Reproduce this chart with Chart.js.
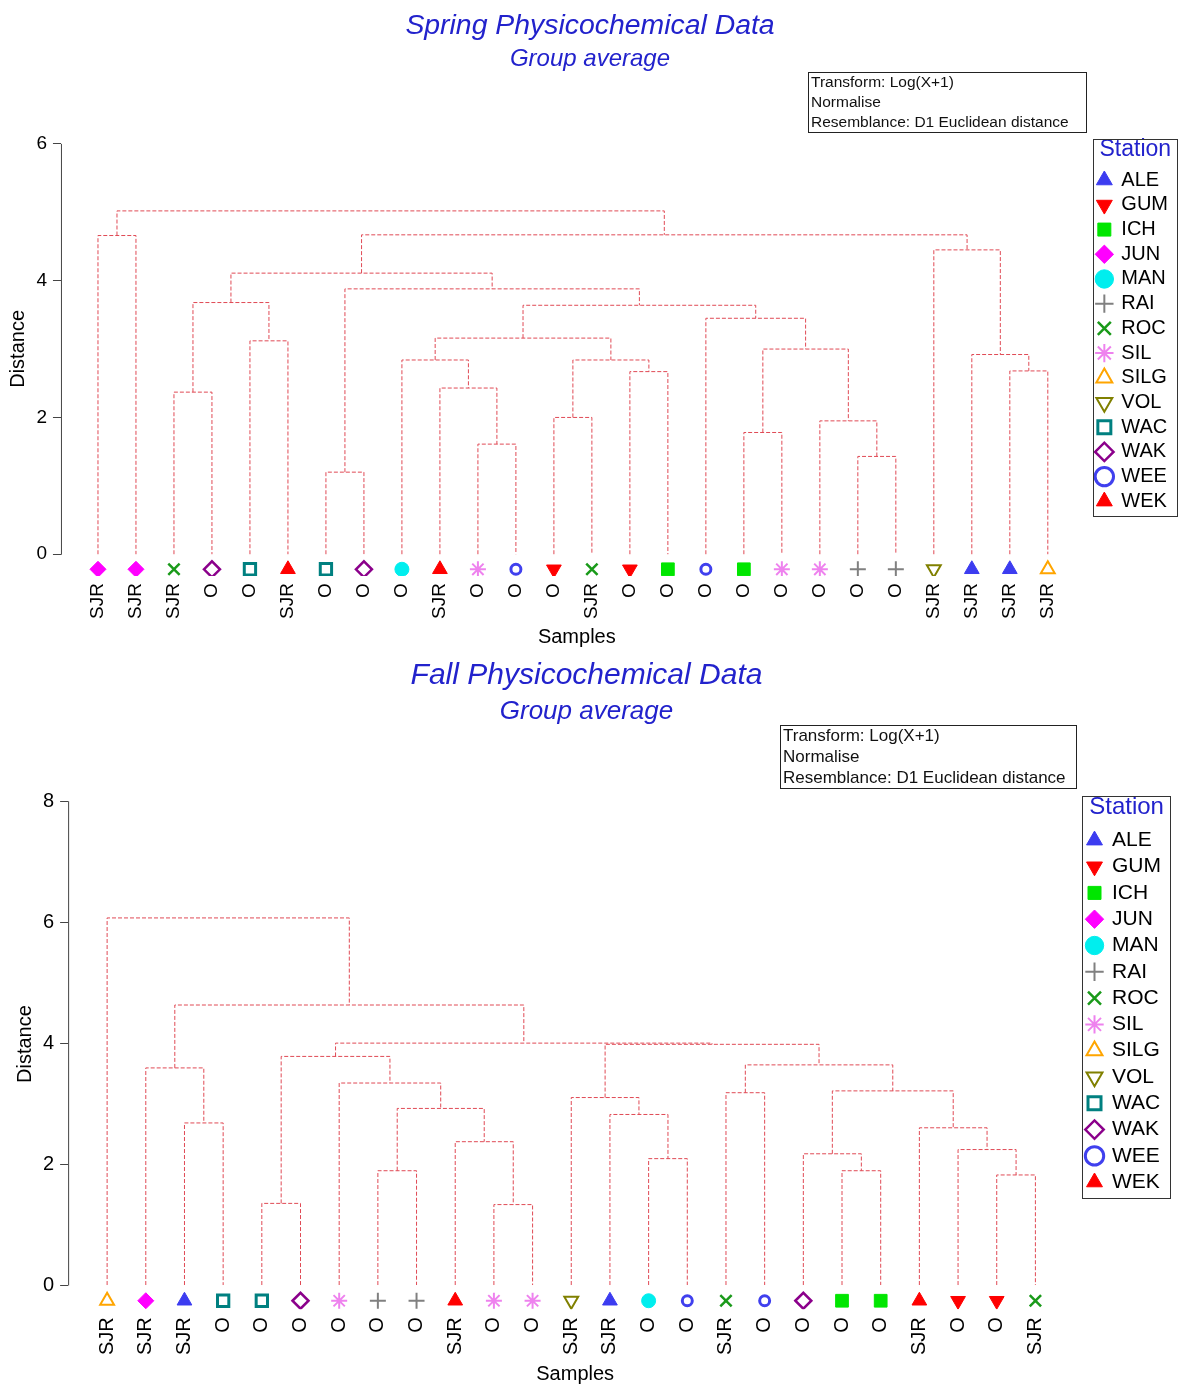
<!DOCTYPE html>
<html>
<head>
<meta charset="utf-8">
<script src="https://cdn.jsdelivr.net/npm/chart.js@4.4.1/dist/chart.umd.min.js"></script>
<style>
  html, body { margin: 0; padding: 0; background: #fff; overflow: hidden; }
  .wrap { position: absolute; left: 0; width: 1179px; }
  #springWrap { top: 0; height: 648px; }
  #fallWrap { top: 648px; height: 737px; }
</style>
</head>
<body>
<div class="wrap" id="springWrap"><canvas id="springChart" width="1179" height="648"></canvas></div>
<div class="wrap" id="fallWrap"><canvas id="fallChart" width="1179" height="737"></canvas></div>
<script>
// legend order of the stations
const stationNames = ['ALE', 'GUM', 'ICH', 'JUN', 'MAN', 'RAI', 'ROC', 'SIL', 'SILG', 'VOL', 'WAC', 'WAK', 'WEE', 'WEK'];
const infoLines = ['Transform: Log(X+1)', 'Normalise', 'Resemblance: D1 Euclidean distance'];

// Spring: leaves from left to right
const springStations = ['JUN', 'JUN', 'ROC', 'WAK', 'WAC', 'WEK', 'WAC', 'WAK', 'MAN', 'WEK', 'SIL', 'WEE', 'GUM',
  'ROC', 'GUM', 'ICH', 'WEE', 'ICH', 'SIL', 'SIL', 'RAI', 'RAI', 'VOL', 'ALE', 'ALE', 'SILG'];
const springSites = ['SJR', 'SJR', 'SJR', 'O', 'O', 'SJR', 'O', 'O', 'O', 'SJR', 'O', 'O', 'O',
  'SJR', 'O', 'O', 'O', 'O', 'O', 'O', 'O', 'O', 'SJR', 'SJR', 'SJR', 'SJR'];
// [node a, node b, distance] - leaves are 0..n-1, merge k becomes node n+k
const springMerges = [
  [6, 7, 1.20], [20, 21, 1.43], [10, 11, 1.61], [17, 18, 1.78], [19, 27, 1.95],
  [12, 13, 2.00], [2, 3, 2.37], [9, 28, 2.43], [14, 15, 2.67], [24, 25, 2.68],
  [8, 33, 2.84], [31, 34, 2.84], [23, 35, 2.92], [29, 30, 3.00], [4, 5, 3.12],
  [36, 37, 3.16], [16, 39, 3.45], [41, 42, 3.64], [32, 40, 3.68], [26, 43, 3.88],
  [44, 45, 4.11], [22, 38, 4.45], [0, 1, 4.66], [46, 47, 4.67], [48, 49, 5.02]
];

// Fall
const fallStations = ['SILG', 'JUN', 'ALE', 'WAC', 'WAC', 'WAK', 'SIL', 'RAI', 'RAI', 'WEK', 'SIL', 'SIL', 'VOL',
  'ALE', 'MAN', 'WEE', 'ROC', 'WEE', 'WAK', 'ICH', 'ICH', 'WEK', 'GUM', 'GUM', 'ROC'];
const fallSites = ['SJR', 'SJR', 'SJR', 'O', 'O', 'O', 'O', 'O', 'O', 'SJR', 'O', 'O', 'SJR',
  'SJR', 'O', 'O', 'SJR', 'O', 'O', 'O', 'O', 'SJR', 'O', 'O', 'SJR'];
const fallMerges = [
  [10, 11, 1.33], [4, 5, 1.35], [23, 24, 1.82], [7, 8, 1.89], [19, 20, 1.89],
  [14, 15, 2.09], [18, 29, 2.17], [22, 27, 2.24], [9, 25, 2.37], [21, 32, 2.60],
  [2, 3, 2.68], [13, 30, 2.82], [28, 33, 2.92], [12, 36, 3.10], [16, 17, 3.18],
  [31, 34, 3.21], [6, 37, 3.34], [1, 35, 3.59], [39, 40, 3.64], [26, 41, 3.78],
  [38, 43, 3.98], [44, 45, 4.00], [42, 46, 4.63], [0, 47, 6.07]
];

const stationStyle = {
  ALE:  { shape: 'triangle', color: '#3c3cf0', fill: true, r: 8.5 },
  GUM:  { shape: 'triangle', rot: 180, color: '#ff0000', fill: true, r: 8.5 },
  ICH:  { shape: 'rect', color: '#00e600', fill: true, r: 9 },
  JUN:  { shape: 'rectRot', color: '#ff00ff', fill: true, r: 8 },
  MAN:  { shape: 'circle', color: '#00eeee', fill: true, r: 7 },
  RAI:  { shape: 'cross', color: '#808080', r: 8, bw: 2 },
  ROC:  { shape: 'crossRot', color: '#1a9a1a', r: 8, bw: 2.5 },
  SIL:  { shape: 'star', color: '#ee82ee', r: 8, bw: 2 },
  SILG: { shape: 'triangle', color: '#ffa500', r: 8, bw: 2 },
  VOL:  { shape: 'triangle', rot: 180, color: '#808000', r: 8, bw: 2 },
  WAC:  { shape: 'rect', color: '#008080', r: 8, bw: 3 },
  WAK:  { shape: 'rectRot', color: '#8b008b', r: 8, bw: 2.5 },
  WEE:  { shape: 'circle', color: '#4040ee', r: 5, bw: 3 },
  WEK:  { shape: 'triangle', color: '#ff0000', fill: true, r: 8.5 }
};

Chart.defaults.font.family = "'Liberation Sans', Arial, sans-serif";
Chart.defaults.color = '#000';
const blue = '#2222cc';

// U-shaped links of the dendrogram, broken by null points
function linkPoints(n, merges) {
  const pos = [], hgt = [], pts = [];
  for (let i = 0; i < n; i++) { pos[i] = i; hgt[i] = 0; }
  merges.forEach(([a, b, h], k) => {
    pts.push({ x: pos[a], y: hgt[a] }, { x: pos[a], y: h }, { x: pos[b], y: h },
      { x: pos[b], y: hgt[b] }, { x: pos[b], y: null });
    pos[n + k] = (pos[a] + pos[b]) / 2;
    hgt[n + k] = h;
  });
  return pts;
}

function stationSets(stations, markerY) {
  return stationNames.map(name => {
    const st = stationStyle[name];
    const pts = [];
    stations.forEach((s, i) => { if (s === name) pts.push({ x: i, y: markerY }); });
    return {
      label: name,
      data: pts,
      pointStyle: st.shape,
      pointRotation: st.rot || 0,
      pointRadius: st.r,
      pointHoverRadius: st.r,
      borderColor: st.color,
      backgroundColor: st.fill ? st.color : 'rgba(255,255,255,0)',
      borderWidth: st.bw || 1,
      pointBorderWidth: st.bw || 1
    };
  });
}

const framePlugin = {
  id: 'frames',
  afterLayout(chart, args, opts) {
    const lg = chart.legend;
    lg.top += opts.legendShift;
    lg.bottom += opts.legendShift;
  },
  afterDraw(chart, args, opts) {
    const ctx = chart.ctx;
    const b = opts.info;
    const y = chart.scales.y;
    ctx.save();
    // y axis line only from 0 up to the top tick
    ctx.strokeStyle = '#444';
    ctx.lineWidth = 1;
    ctx.beginPath();
    ctx.moveTo(chart.chartArea.left + 0.5, y.getPixelForValue(0) + 0.5);
    ctx.lineTo(chart.chartArea.left + 0.5, y.getPixelForValue(y.max));
    ctx.stroke();
    // info box
    ctx.strokeStyle = '#222';
    ctx.strokeRect(b.x + 0.5, b.y + 0.5, b.w, b.h);
    ctx.fillStyle = '#111';
    ctx.font = b.size + "px 'Liberation Sans', Arial, sans-serif";
    ctx.textBaseline = 'middle';
    infoLines.forEach((t, i) => ctx.fillText(t, b.x + 3, b.y + b.first + i * b.step));
    // legend frame
    const lg = chart.legend;
    const hb = lg.legendHitBoxes;
    const last = hb[hb.length - 1];
    const top = Math.round(lg.top + opts.frameTop);
    ctx.strokeStyle = '#333';
    ctx.strokeRect(Math.round(lg.left) + 0.5, top + 0.5, Math.round(lg.width) - 1,
      Math.round(last.top + last.height + opts.legendPad - top));
    ctx.restore();
  }
};

function makeChart(id, c) {
  const n = c.sites.length;
  const datasets = stationSets(c.stations, c.markerY);
  datasets.push({
    label: 'links',
    data: linkPoints(n, c.merges),
    showLine: true,
    borderColor: '#e04a55',
    borderWidth: 1,
    borderDash: [4, 2],
    pointRadius: 0,
    pointHoverRadius: 0
  });
  return new Chart(document.getElementById(id), {
    type: 'scatter',
    data: { datasets },
    plugins: [framePlugin],
    options: {
      responsive: false,
      animation: false,
      events: [],
      layout: { padding: { left: 2, right: c.padRight, top: 0, bottom: 1 } },
      scales: {
        x: {
          type: 'linear',
          min: c.xMin,
          max: c.xMax,
          afterBuildTicks: (scale) => { scale.ticks = c.sites.map((s, i) => ({ value: i })); },
          grid: { display: false, drawTicks: false },
          border: { display: false },
          ticks: {
            callback: (v) => c.sites[v],
            autoSkip: false,
            minRotation: 90,
            maxRotation: 90,
            padding: c.tickPad,
            color: '#000',
            font: { size: c.tickSize }
          },
          title: { display: true, text: 'Samples', color: '#000', font: { size: 20, lineHeight: 1 },
            padding: { top: c.xTitlePad, bottom: 0 } }
        },
        y: {
          min: c.yMin,
          max: c.yMax,
          ticks: { stepSize: 2, includeBounds: false, padding: 6, color: '#000', font: { size: c.tickSize } },
          grid: { drawOnChartArea: false, drawTicks: true, tickLength: 8, color: '#444' },
          border: { display: false },
          // leading spaces keep the title centred on the 0..max part of the axis
          title: { display: true, text: '    Distance', color: '#000', font: { size: 20 },
            padding: { top: c.yTitlePad[0], bottom: c.yTitlePad[1] } }
        }
      },
      plugins: {
        title: { display: true, text: c.title, color: blue,
          font: { size: c.titleSize, style: 'italic', weight: 'normal' }, padding: { top: c.titlePadTop, bottom: 0 } },
        subtitle: { display: true, text: 'Group average', color: blue,
          font: { size: c.subSize, style: 'italic', weight: 'normal' }, padding: { top: 2, bottom: c.subPadBottom } },
        legend: {
          position: 'right',
          align: 'start',
          fullSize: false,
          title: { display: true, text: 'Station', color: blue, font: { size: c.legendTitleSize }, padding: 0 },
          labels: {
            usePointStyle: true,
            boxWidth: 14,
            boxHeight: 13,
            padding: c.legendPad,
            color: '#000',
            font: { size: c.legendSize },
            filter: (item) => item.datasetIndex < stationNames.length
          }
        },
        tooltip: { enabled: false },
        frames: { info: c.info, legendShift: c.legendShift, frameTop: c.frameTop, legendPad: 5 }
      }
    }
  });
}

makeChart('springChart', {
  stations: springStations, sites: springSites, merges: springMerges,
  title: 'Spring Physicochemical Data', titleSize: 28.4, subSize: 24, titlePadTop: 9, subPadBottom: 70,
  yMin: -0.32, yMax: 6, xMin: -0.974, xMax: 26.18, markerY: -0.22, tickSize: 19, tickPad: 7, xTitlePad: 1,
  yTitlePad: [4, 0.4], padRight: 1, legendSize: 20, legendTitleSize: 23, legendPad: 4.7,
  legendShift: -6, frameTop: 1,
  info: { x: 808, y: 72, w: 278, h: 60, size: 15.5, first: 11, step: 20 }
});

makeChart('fallChart', {
  stations: fallStations, sites: fallSites, merges: fallMerges,
  title: 'Fall Physicochemical Data', titleSize: 30, subSize: 26, titlePadTop: 10, subPadBottom: 74,
  yMin: -0.4, yMax: 8, xMin: -1.008, xMax: 25.21, markerY: -0.26, tickSize: 20, tickPad: 8, xTitlePad: 1,
  yTitlePad: [11, 0], padRight: 8, legendSize: 21, legendTitleSize: 24, legendPad: 5.3,
  legendShift: -5.5, frameTop: 0,
  info: { x: 780, y: 77, w: 296, h: 63, size: 17, first: 11, step: 21 }
});
</script>
</body>
</html>
